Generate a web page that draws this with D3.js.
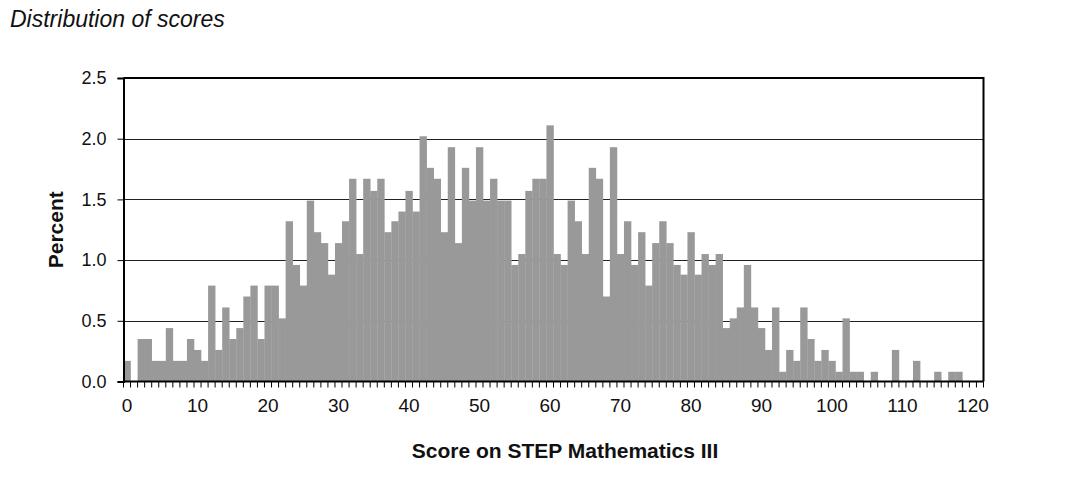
<!DOCTYPE html>
<html>
<head>
<meta charset="utf-8">
<script src="https://cdn.jsdelivr.net/npm/d3@7"></script>
<style>
  html, body { margin: 0; padding: 0; background: #fff; }
  svg { display: block; font-family: "Liberation Sans", Arial, sans-serif; }
</style>
</head>
<body>
<svg id="chart" width="1080" height="480"></svg>
<script>
// Score bins 0..121
const scores = d3.range(0, 122);
// Percent of candidates for each score
const percents = [
  0.17, 0.00, 0.35, 0.35, 0.17, 0.17, 0.44, 0.17, 0.17, 0.35,
  0.26, 0.17, 0.79, 0.26, 0.61, 0.35, 0.44, 0.70, 0.79, 0.35,
  0.79, 0.79, 0.52, 1.32, 0.96, 0.79, 1.49, 1.23, 1.14, 0.88,
  1.14, 1.32, 1.67, 1.05, 1.67, 1.57, 1.67, 1.23, 1.32, 1.40,
  1.57, 1.40, 2.02, 1.76, 1.67, 1.23, 1.93, 1.14, 1.76, 1.49,
  1.93, 1.49, 1.67, 1.49, 1.49, 0.96, 1.05, 1.57, 1.67, 1.67,
  2.11, 1.05, 0.96, 1.49, 1.32, 1.05, 1.76, 1.67, 0.70, 1.93,
  1.05, 1.32, 0.96, 1.23, 0.79, 1.14, 1.32, 1.14, 0.96, 0.88,
  1.23, 0.88, 1.05, 0.96, 1.05, 0.44, 0.52, 0.61, 0.96, 0.61,
  0.44, 0.26, 0.61, 0.08, 0.26, 0.17, 0.61, 0.35, 0.17, 0.26,
  0.17, 0.08, 0.52, 0.08, 0.08, 0.00, 0.08, 0.00, 0.00, 0.26,
  0.00, 0.00, 0.17, 0.00, 0.00, 0.08, 0.00, 0.08, 0.08, 0.00,
  0.00, 0.00
];
const yTicks = [0, 0.5, 1.0, 1.5, 2.0, 2.5];
const xTickLabels = [0, 10, 20, 30, 40, 50, 60, 70, 80, 90, 100, 110, 120];
const titleText = "Distribution of scores";
const xTitle = "Score on STEP Mathematics III";
const yTitle = "Percent";

const svg = d3.select("#chart");
const pLeft = 123.5, pRight = 983.5, pTop = 78, pBottom = 381.5;

const x = d3.scaleBand().domain(scores).range([pLeft, pRight]).padding(0);
const y = d3.scaleLinear().domain([0, 2.5]).range([pBottom, pTop]);

// Title
svg.append("text")
  .attr("x", 10).attr("y", 27)
  .attr("font-size", 23).attr("font-style", "italic")
  .attr("fill", "#111")
  .text(titleText);

// Gridlines
svg.append("g").selectAll("line")
  .data(yTicks.filter(d => d > 0))
  .join("line")
  .attr("x1", pLeft).attr("x2", pRight)
  .attr("y1", d => Math.round(y(d)) + 0.5).attr("y2", d => Math.round(y(d)) + 0.5)
  .attr("stroke", "#222").attr("stroke-width", 1);

// Bars
svg.append("g").selectAll("rect")
  .data(scores.map((s, i) => ({ s, v: percents[i] })))
  .join("rect")
  .attr("x", d => x(d.s))
  .attr("width", x.bandwidth() + 0.3)
  .attr("y", d => y(d.v))
  .attr("height", d => y(0) - y(d.v))
  .attr("fill", "#999999");

// Plot frame (top and right)
svg.append("path")
  .attr("d", `M${pLeft},${pTop}H${pRight}V${pBottom}`)
  .attr("fill", "none").attr("stroke", "#000").attr("stroke-width", 2);

// Y axis
const yAxis = d3.axisLeft(y).tickValues(yTicks).tickFormat(d3.format(".1f")).tickSize(6).tickPadding(11);
const gy = svg.append("g").attr("transform", `translate(${pLeft},0)`).call(yAxis);
gy.select(".domain").attr("stroke", "#000").attr("stroke-width", 2);
gy.selectAll(".tick line").attr("stroke", "#000");
gy.selectAll("text").attr("font-size", 18).attr("fill", "#111")
  .attr("font-family", "Liberation Sans, Arial, sans-serif");

// X axis: minor ticks at each bin boundary
const gx = svg.append("g");
gx.append("line")
  .attr("x1", pLeft).attr("x2", pRight)
  .attr("y1", pBottom).attr("y2", pBottom)
  .attr("stroke", "#000").attr("stroke-width", 2);
gx.selectAll("line.tk")
  .data(scores.concat([scores.length]))
  .join("line").attr("class", "tk")
  .attr("x1", (d, i) => i < scores.length ? x(d) : pRight)
  .attr("x2", (d, i) => i < scores.length ? x(d) : pRight)
  .attr("y1", pBottom).attr("y2", pBottom + 6)
  .attr("stroke", "#000").attr("stroke-width", 1);
gx.selectAll("text")
  .data(xTickLabels)
  .join("text")
  .attr("x", d => x(d) + x.bandwidth() / 2)
  .attr("y", 412)
  .attr("text-anchor", "middle")
  .attr("font-size", 19).attr("fill", "#111")
  .text(d => d);

// Axis titles
svg.append("text")
  .attr("x", 565).attr("y", 458)
  .attr("text-anchor", "middle")
  .attr("font-size", 21).attr("font-weight", "bold").attr("fill", "#111")
  .text(xTitle);

svg.append("text")
  .attr("transform", `translate(63,${(pTop + pBottom) / 2}) rotate(-90)`)
  .attr("text-anchor", "middle")
  .attr("font-size", 21).attr("font-weight", "bold").attr("fill", "#111")
  .text(yTitle);
</script>
</body>
</html>
